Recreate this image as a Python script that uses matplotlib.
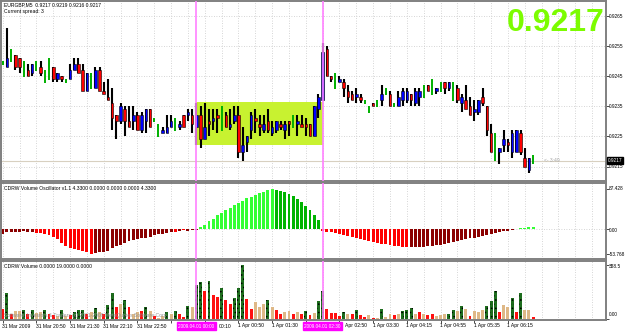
import matplotlib
matplotlib.use('agg')
import matplotlib.pyplot as plt
from matplotlib.patches import Rectangle
from matplotlib.transforms import blended_transform_factory

plt.rcParams['font.family'] = ['Liberation Sans', 'DejaVu Sans']
plt.rcParams['hatch.linewidth'] = 0.6

# EURGBP M5 bars, 31 Mar 2009 20:10 -> 1 Apr 2009 06:40
opens = [0.9249, 0.9248, 0.9250, 0.9252, 0.9251, 0.9245, 0.9247, 0.9246, 0.9247, 0.9248,
         0.9243, 0.9244, 0.9248, 0.9244, 0.9245, 0.9243, 0.9244, 0.9247, 0.9249, 0.9247,
         0.9240, 0.9241, 0.9241, 0.9247, 0.9240, 0.9238, 0.9236, 0.9232, 0.9230, 0.9234,
         0.9230, 0.9230, 0.9232, 0.9227, 0.9230, 0.9234, 0.9230, 0.9225, 0.9226, 0.9226,
         0.9228, 0.9227, 0.9228, 0.9232, 0.9232, 0.9232, 0.9228, 0.9232, 0.9224, 0.9230,
         0.9230, 0.9232, 0.9227, 0.9232, 0.9228, 0.9230, 0.9232, 0.9220, 0.9223, 0.9227,
         0.9231, 0.9229, 0.9227, 0.9230, 0.9226, 0.9227, 0.9229, 0.9227, 0.9230, 0.9228,
         0.9229, 0.9229, 0.9229, 0.9229, 0.9225, 0.9234, 0.9237, 0.9254, 0.9245, 0.9241,
         0.9243, 0.9243, 0.9240, 0.9239, 0.9238, 0.9238, 0.9236, 0.9233, 0.9236, 0.9235,
         0.9237, 0.9239, 0.9239, 0.9235, 0.9235, 0.9237, 0.9237, 0.9239, 0.9236, 0.9238,
         0.9238, 0.9242, 0.9239, 0.9240, 0.9240, 0.9243, 0.9241, 0.9237, 0.9241, 0.9236,
         0.9237, 0.9235, 0.9233, 0.9233, 0.9238, 0.9235, 0.9226, 0.9217, 0.9220, 0.9222,
         0.9223, 0.9220, 0.9220, 0.9226, 0.9218, 0.9214, 0.9217]
highs = [0.9250, 0.9261, 0.9254, 0.9252, 0.9251, 0.9250, 0.9249, 0.9249, 0.9250, 0.9250,
         0.9247, 0.9251, 0.9248, 0.9246, 0.9245, 0.9244, 0.9249, 0.9251, 0.9251, 0.9249,
         0.9246, 0.9246, 0.9248, 0.9248, 0.9243, 0.9244, 0.9241, 0.9232, 0.9236, 0.9235,
         0.9235, 0.9235, 0.9233, 0.9233, 0.9234, 0.9234, 0.9231, 0.9229, 0.9228, 0.9232,
         0.9232, 0.9231, 0.9230, 0.9232, 0.9234, 0.9234, 0.9236, 0.9235, 0.9236, 0.9234,
         0.9234, 0.9234, 0.9235, 0.9233, 0.9234, 0.9235, 0.9235, 0.9228, 0.9225, 0.9233,
         0.9234, 0.9232, 0.9232, 0.9234, 0.9230, 0.9230, 0.9230, 0.9230, 0.9230, 0.9232,
         0.9232, 0.9232, 0.9231, 0.9229, 0.9235, 0.9239, 0.9256, 0.9255, 0.9245, 0.9246,
         0.9245, 0.9244, 0.9242, 0.9240, 0.9241, 0.9239, 0.9237, 0.9235, 0.9236, 0.9237,
         0.9242, 0.9241, 0.9240, 0.9236, 0.9240, 0.9241, 0.9241, 0.9239, 0.9241, 0.9241,
         0.9242, 0.9242, 0.9244, 0.9241, 0.9243, 0.9243, 0.9243, 0.9243, 0.9242, 0.9239,
         0.9242, 0.9238, 0.9237, 0.9237, 0.9241, 0.9235, 0.9229, 0.9226, 0.9221, 0.9227,
         0.9224, 0.9227, 0.9227, 0.9227, 0.9221, 0.9218, 0.9219]
lows = [0.9249, 0.9248, 0.9250, 0.9247, 0.9246, 0.9245, 0.9245, 0.9245, 0.9247, 0.9245,
        0.9243, 0.9244, 0.9243, 0.9243, 0.9243, 0.9243, 0.9244, 0.9247, 0.9246, 0.9240,
        0.9240, 0.9241, 0.9241, 0.9240, 0.9239, 0.9237, 0.9227, 0.9224, 0.9229, 0.9225,
        0.9228, 0.9227, 0.9227, 0.9226, 0.9226, 0.9228, 0.9230, 0.9225, 0.9226, 0.9226,
        0.9228, 0.9227, 0.9227, 0.9228, 0.9230, 0.9226, 0.9222, 0.9221, 0.9224, 0.9225,
        0.9227, 0.9226, 0.9227, 0.9228, 0.9227, 0.9229, 0.9218, 0.9217, 0.9220, 0.9224,
        0.9226, 0.9225, 0.9226, 0.9226, 0.9225, 0.9226, 0.9227, 0.9224, 0.9225, 0.9228,
        0.9225, 0.9228, 0.9225, 0.9225, 0.9225, 0.9231, 0.9237, 0.9245, 0.9243, 0.9241,
        0.9243, 0.9238, 0.9236, 0.9237, 0.9236, 0.9236, 0.9236, 0.9233, 0.9235, 0.9235,
        0.9235, 0.9239, 0.9235, 0.9235, 0.9235, 0.9235, 0.9236, 0.9235, 0.9235, 0.9235,
        0.9238, 0.9240, 0.9239, 0.9239, 0.9240, 0.9239, 0.9240, 0.9237, 0.9236, 0.9233,
        0.9234, 0.9232, 0.9230, 0.9232, 0.9235, 0.9225, 0.9220, 0.9217, 0.9216, 0.9220,
        0.9220, 0.9218, 0.9220, 0.9219, 0.9215, 0.9213, 0.9216]
closes = [0.9250, 0.9251, 0.9254, 0.9248, 0.9248, 0.9250, 0.9245, 0.9249, 0.9250, 0.9246,
          0.9247, 0.9251, 0.9244, 0.9246, 0.9244, 0.9244, 0.9247, 0.9249, 0.9246, 0.9240,
          0.9246, 0.9246, 0.9247, 0.9240, 0.9239, 0.9237, 0.9231, 0.9230, 0.9235, 0.9230,
          0.9228, 0.9232, 0.9227, 0.9232, 0.9234, 0.9228, 0.9231, 0.9229, 0.9227, 0.9228,
          0.9230, 0.9231, 0.9229, 0.9228, 0.9233, 0.9229, 0.9232, 0.9224, 0.9228, 0.9229,
          0.9231, 0.9231, 0.9235, 0.9228, 0.9229, 0.9232, 0.9220, 0.9222, 0.9225, 0.9232,
          0.9230, 0.9228, 0.9229, 0.9227, 0.9228, 0.9230, 0.9228, 0.9229, 0.9229, 0.9232,
          0.9230, 0.9228, 0.9228, 0.9225, 0.9235, 0.9238, 0.9253, 0.9245, 0.9244, 0.9246,
          0.9244, 0.9241, 0.9238, 0.9237, 0.9239, 0.9237, 0.9237, 0.9235, 0.9235, 0.9237,
          0.9239, 0.9241, 0.9235, 0.9236, 0.9238, 0.9240, 0.9240, 0.9237, 0.9240, 0.9240,
          0.9242, 0.9240, 0.9244, 0.9241, 0.9243, 0.9241, 0.9243, 0.9243, 0.9237, 0.9238,
          0.9234, 0.9232, 0.9234, 0.9237, 0.9236, 0.9227, 0.9220, 0.9226, 0.9221, 0.9224,
          0.9222, 0.9226, 0.9227, 0.9220, 0.9215, 0.9218, 0.9217]
# bar colour codes: b = blue, r = red, g = green
bar_cols = ("gbgrrgrbgr" "ggrbrgbbrr" "bgbrrrrrbr" "rbrbbrggbb" "bgbrbrbrbr"
            "brgrbbrbbb" "rrbrbbrbrg" "brrrbbbrrg" "brrrbrggrg" "bgrgbbbrbb"
            "grgbgrbgrb" "rrbbrrrgbb" "rbbrrbg")

# CDRW Volume Oscillator
osc = [-11.0, -5.8, -5.1, -5.1, -5.1, -3.6, -5.1, -5.8, -7.3, -7.3,
       -9.5, -12.4, -16.9, -22.0, -29.4, -36.8, -40.4, -43.0, -45.0, -47.0,
       -50.0, -53.768, -51.6, -49.3, -48.5, -46.4, -40.5, -36.8, -33.2, -29.4,
       -25.7, -24.3, -22.0, -19.9, -18.4, -16.2, -13.2, -11.0, -9.5, -8.0,
       -5.8, -5.8, -3.6, -2.2, -3.6, -2.2, -0.7, 5.0, 10.0, 17.0,
       23.0, 30.0, 36.0, 41.0, 47.0, 52.0, 58.0, 62.0, 67.0, 71.0,
       75.0, 79.0, 82.0, 85.0, 87.428, 86.0, 84.0, 81.0, 77.0, 72.0,
       66.0, 59.0, 50.0, 41.0, 31.0, 20.0, -3.0, -5.0, -7.0, -9.0,
       -11.0, -13.0, -15.0, -17.0, -19.0, -21.0, -23.0, -25.0, -27.0, -29.0,
       -31.0, -33.0, -35.0, -36.0, -37.0, -38.0, -39.0, -39.5, -39.0, -38.5,
       -38.0, -37.0, -36.0, -35.0, -33.5, -32.0, -30.0, -28.0, -26.0, -24.0,
       -22.0, -20.0, -18.0, -16.0, -14.0, -12.0, -10.0, -8.0, -6.0, -4.5,
       -3.0, -2.0, 1.0, 2.0, 3.0, 4.0, 4.33]
# R = falling red, D = rising (dark) red, L = rising green, G = falling green
osc_cols = ("D" * 8 + "R" * 14 + "D" * 19 + "RDRDDD"
            + "L" * 18 + "G" * 11
            + "R" * 21 + "D" * 25 + "L" * 5)

# CDRW Volume
vol = [75, 190, 41, 64, 64, 69, 41, 71, 46, 53,
       69, 37, 30, 23, 71, 23, 30, 53, 69, 71,
       37, 53, 80, 53, 41, 105, 190, 91, 110, 137,
       91, 41, 53, 64, 91, 59, 23, 11, 23, 53,
       41, 64, 37, 18, 98, 87, 247, 270, 201, 274,
       174, 160, 228, 137, 110, 155, 228, 388.5, 144, 75,
       128, 91, 110, 137, 91, 69, 37, 53, 64, 37,
       53, 37, 64, 30, 46, 133, 201, 75, 46, 46,
       23, 53, 37, 41, 69, 30, 18, 30, 11, 14,
       75, 18, 41, 30, 41, 59, 69, 82, 41, 53,
       37, 30, 37, 23, 30, 37, 41, 69, 64, 98,
       75, 23, 64, 53, 69, 98, 133, 201, 53, 105,
       91, 151, 53, 190, 69, 69, 18]
# r = red, g = dark green (dotted), t = tan
vol_cols = ("rgrttgrgtt" "grrtgtrggg" "rtgtrggrtg" "rttrgtrttg" "tgrrgtggrg"
            "rrgrrgggrr" "tttgtrrttr" "trgrtggrrr" "rgtrgrrtrt" "gttrtgggtr"
            "trrtttggtg" "trtttgggrt" "tgrgttr")

time_pos = [0, 8, 16, 24, 32, 40, 48, 56, 64, 72, 80, 88, 96, 104, 112, 120]
time_labels = ['31 Mar 2009', '31 Mar 20:50', '31 Mar 21:30', '31 Mar 22:10', '31 Mar 22:50',
               '31 Mar 23:30', '1 Apr 00:10', '1 Apr 00:50', '1 Apr 01:30', '1 Apr 02:10',
               '1 Apr 02:50', '1 Apr 03:30', '1 Apr 04:15', '1 Apr 04:55', '1 Apr 05:35',
               '1 Apr 06:15']
markers = [46, 76]
marker_labels = ['2009.04.01 00:00', '2009.04.01 02:30']
price_ticks = [0.9215, 0.9225, 0.9235, 0.9245, 0.9255, 0.9265]
box_lo, box_hi = 0.92222, 0.92365

W, H = 625, 333
FS = 3.6
GRID = dict(color='#c8c8c8', lw=0.6, linestyle=(0, (1, 2)), zorder=0)


def box(x0, y0, x1, y1):
    return [x0 / W, 1 - y1 / H, (x1 - x0) / W, (y1 - y0) / H]


def ftext(x, y, s, **kw):
    return fig.text(x / W, 1 - y / H, s, fontsize=kw.pop('fontsize', FS), **kw)


def bar_px(i):
    return 2.7 + 4.21 * i


fig = plt.figure(figsize=(W / 100, H / 100), dpi=100)
ax_p = fig.add_axes(box(1, 1, 606, 181))
ax_o = fig.add_axes(box(1, 183, 606, 259))
ax_v = fig.add_axes(box(1, 261, 606, 320))

n = len(opens)
xs = list(range(n))
for ax in (ax_p, ax_o, ax_v):
    ax.set_xlim(-0.4, 143.3)
    ax.set_facecolor('white')
    for sp in ax.spines.values():
        sp.set_color('#808080')
        sp.set_linewidth(1.4)
    ax.yaxis.tick_right()
    ax.tick_params(axis='y', length=2, width=0.5, labelright=False)
    ax.set_xticks(time_pos)
    ax.tick_params(axis='x', length=2, width=0.5, labelbottom=False)
    # dotted grid every 4 bars (half a label step)
    for p in range(0, 144, 4):
        ax.axvline(p, **GRID)
    for m in markers:
        ax.axvline(m, color='#ff80ff', lw=1.2, zorder=5)

# ---- price panel
ax_p.set_ylim(0.92102, 0.92700)
ax_p.set_yticks(price_ticks)
for p in price_ticks:
    ax_p.axhline(p, **GRID)
    ftext(609, 16 + (0.9265 - p) * 30100, '%.4f' % p, va='center', fontsize=3.4)
ax_p.add_patch(Rectangle((markers[0], box_lo), markers[1] - markers[0], box_hi - box_lo,
                         facecolor='#c8f230', edgecolor='none', zorder=1))
ax_p.axhline(closes[-1], color='#d8d0c0', lw=0.8, zorder=1)

cmap = {'b': '#0000ff', 'r': '#ff0000', 'g': '#00b000'}
for i in xs:
    c = bar_cols[i]
    if c == 'g':
        ax_p.vlines(i, lows[i] - 0.00003, highs[i], color=cmap['g'], lw=1.4, zorder=3)
        continue
    ax_p.vlines(i, lows[i], highs[i], color='black', lw=1.5, zorder=2)
    lo, hi = min(opens[i], closes[i]), max(opens[i], closes[i])
    ax_p.bar(i, max(hi - lo, 0.00003), bottom=lo, width=0.62, color=cmap[c],
             edgecolor='black', linewidth=0.4, zorder=3)

tr = blended_transform_factory(ax_p.transAxes, ax_p.transData)
ax_p.text(1.003, closes[-1], '0.9217', transform=tr, fontsize=3.4, color='white',
          va='center', ha='left',
          bbox=dict(boxstyle='square,pad=0.15', fc='black', ec='black'), zorder=6)
ax_p.text(n + 1.5, closes[-1], '<- 3:49', fontsize=FS, color='#a8a8a8', va='center')

# ---- oscillator panel (87.428 near y=189, -53.768 near y=254)
ax_o.set_ylim(-64.6, 100.5)
ax_o.set_yticks([87.428, 0, -53.768])
ax_o.axhline(0, **GRID)
ocmap = {'R': '#ff0000', 'D': '#8b0000', 'L': '#33ff33', 'G': '#00b400'}
ax_o.bar(xs, osc, width=0.7, color=[ocmap[c] for c in osc_cols], zorder=2)
ftext(609, 189, '87.428', va='center', fontsize=3.4)
ftext(609, 230, '0.00', va='center', fontsize=3.4)
ftext(609, 254, '-53.768', va='center', fontsize=3.4)

# ---- volume panel
ax_v.set_ylim(-3.6, 417)
ax_v.set_yticks([388.5, 0])
vcmap = {'r': '#ff1010', 'g': '#1e6e1e', 't': '#deb887'}
for i in xs:
    c = vol_cols[i]
    ax_v.bar(i, vol[i], width=0.7, color=vcmap[c], linewidth=0,
             hatch='....' if c == 'g' else None, edgecolor='black', zorder=2)
ftext(609, 266, '388.5', va='center', fontsize=3.4)
ftext(609, 315, '0.00', va='center', fontsize=3.4)

# ---- texts
ftext(4, 5, 'EURGBP,M5  0.9217 0.9219 0.9216 0.9217', va='center')
ftext(4, 12, 'Current spread: 3', va='center')
ftext(604, 31, '0.9217', fontsize=23, fontweight='bold', color='#7cfc00', ha='right',
      va='baseline')
ftext(4, 189, 'CDRW Volume Oscillator v1.1 4.3300 0.0000 0.0000 0.0000 4.3300', va='center')
ftext(4, 266, 'CDRW Volume 0.0000 19.0000 0.0000', va='center')
ftext(4, 316, 'Software, Investors & Traders (c) 2001-2009 MetaQuotes Software Corp.',
      va='center', color='#909090')

# time axis: magenta marker boxes hide the labels beneath them
mark_spans = []
for m, lab in zip(markers, marker_labels):
    x = bar_px(m)
    ftext(x, 326, lab, va='center', ha='center', color='white', fontsize=3.4,
          bbox=dict(boxstyle='square,pad=0.25', fc='#ff00ff', ec='#ff00ff'))
    mark_spans.append((x - 22, x + 21))
for p, lab in zip(time_pos, time_labels):
    x = bar_px(p) - 0.5
    width = len(lab) * 2.5
    hit = [s for s in mark_spans if x < s[1] and x + width > s[0]]
    if hit:
        lo, hi = hit[0]
        if x + width <= hi + 6:
            continue
        # only the tail of this label shows right of the box
        lab = lab.split(' ', 2)[-1] if x + width - hi < 16 else lab.split(' ', 1)[-1]
        x = hi + 1.5
    ftext(x, 326, lab, va='center', ha='left')

fig.savefig('out.png', dpi=100, facecolor='white')
